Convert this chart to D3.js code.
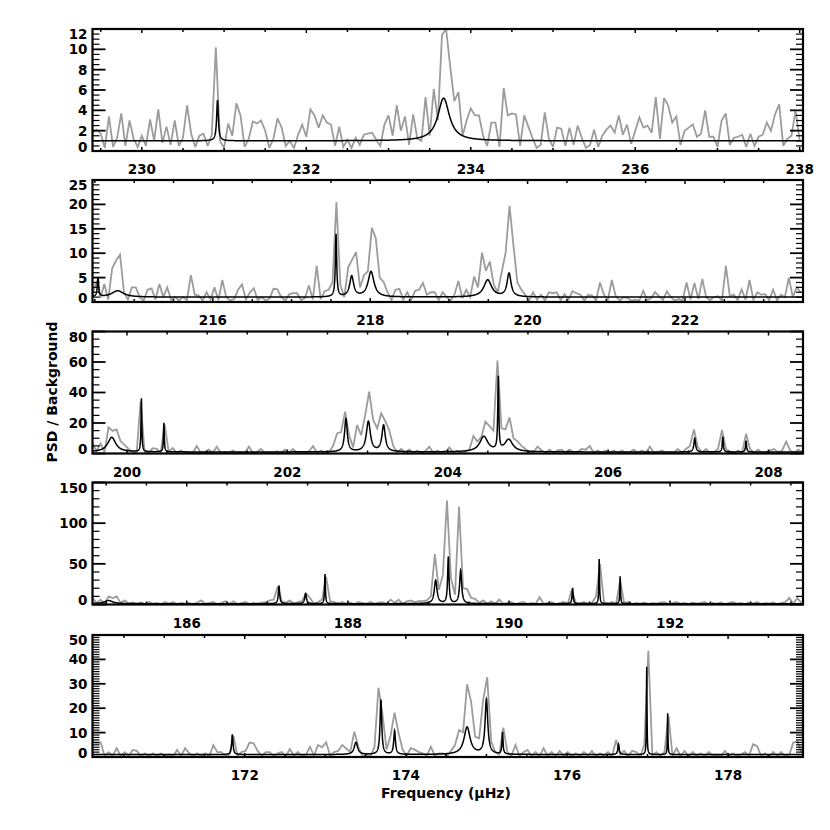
<!DOCTYPE html>
<html><head><meta charset="utf-8">
<script src="https://cdn.jsdelivr.net/npm/d3@7/dist/d3.min.js"></script>
<style>
body{margin:0;background:#fff}
text{font-family:"DejaVu Sans",sans-serif;font-weight:bold;fill:#000}
</style>
</head><body>
<svg id="chart" width="830" height="830"></svg>
<script>
// ---------------- DATA ----------------
const fStart = [229.40, 214.47, 199.57, 184.83, 170.11];   // μHz, left edge of each panel
const fEnd   = [238.04, 223.50, 208.43, 193.65, 178.93];   // μHz, right edge of each panel
const binWidth = 0.05;                                      // μHz per PSD sample (as read)
const background = 1;                                       // PSD/background level of the fit
const yMax   = [12, 25, 80, 150, 50];
const yMajor = [2, 5, 20, 50, 10];
const yMinor = [0.5, 1, 5, 10, 1];
const xMajor = 2, xMinor = 0.5;
const xTickLabels = [
  [230, 232, 234, 236, 238],
  [216, 218, 220, 222],
  [200, 202, 204, 206, 208],
  [186, 188, 190, 192],
  [172, 174, 176, 178]
];

// observed PSD / background (grey)
const psd1 = [1.8,2.1,1.7,0.3,3.4,0.4,1.3,3.7,0.5,3.0,1.2,0.4,
 1.5,0.5,3.1,1.0,4.1,0.8,2.4,0.6,3.0,0.5,
 1.3,4.5,1.7,0.4,1.5,1.7,0.5,1.6,10.2,1.0,
 0.3,2.7,1.5,4.7,3.5,0.4,1.2,2.9,2.7,3.0,
 2.0,0.3,1.2,3.2,2.3,0.5,1.0,0.3,1.6,2.6,
 1.4,4.1,3.5,2.3,3.5,2.8,2.6,0.5,2.4,0.4,
 1.1,0.3,1.3,0.6,1.6,1.7,1.8,1.1,0.5,2.6,
 3.5,1.5,4.5,2.0,3.4,0.6,3.6,1.2,
 1.0,5.3,1.5,6.1,3.0,11.4,12.0,8.3,4.9,5.8,
 1.5,3.0,4.2,3.5,3.5,1.5,0.5,2.8,2.8,0.4,
 6.2,3.5,3.7,3.6,0.5,3.5,2.4,1.3,0.3,0.6,
 3.8,1.2,0.4,2.3,2.2,0.5,2.3,0.6,2.5,1.3,
 0.3,0.6,2.1,0.4,1.5,2.1,2.5,1.8,3.5,1.6,
 2.6,0.7,2.0,3.3,2.3,2.5,1.8,5.3,1.2,5.2,
 4.5,2.8,3.4,0.6,2.0,2.3,2.6,1.4,1.7,4.0,
 1.4,1.4,0.4,3.0,3.7,0.6,1.3,1.4,1.6,0.4,
 1.7,0.5,1.4,1.6,2.8,2.0,3.6,4.6,0.5,1.2,
 1.5,4.0,1.0];
const psd2 = [1.5,4.3,0.8,3.7,0.5,6.9,8.5,9.7,2.0,0.5,
 3.0,3.0,1.0,0.3,2.5,2.8,0.5,3.7,1.0,3.0,
 0.4,1.0,0.3,1.0,0.4,5.5,1.5,1.3,0.3,2.0,
 0.5,3.0,0.4,4.5,1.0,0.3,0.6,2.5,3.6,0.5,
 2.0,2.8,0.4,1.0,0.3,0.7,2.7,2.6,1.0,0.3,
 1.6,1.8,1.8,0.4,0.8,3.4,0.5,7.4,0.6,2.2,
 2.5,4.0,20.5,3.5,1.0,7.1,8.7,10.2,3.0,5.5,
 6.3,15.2,13.1,5.0,4.1,2.0,0.4,2.5,2.7,0.5,
 2.0,0.4,2.3,2.5,3.9,1.5,2.0,2.0,0.4,2.0,
 1.0,0.3,1.5,4.3,0.8,2.5,1.0,5.2,3.0,10.1,
 6.4,8.3,3.5,2.0,6.1,10.0,19.7,11.6,4.0,2.5,
 1.5,0.3,2.0,0.5,1.5,0.3,2.0,1.8,2.0,0.4,
 1.6,0.5,2.2,1.8,1.5,0.3,1.5,1.3,0.3,4.0,
 1.5,0.4,4.5,1.2,0.3,1.0,0.8,0.3,0.5,0.3,
 2.3,0.4,0.8,2.0,1.2,0.4,2.2,1.0,0.3,0.6,
 0.3,4.0,0.5,3.9,0.6,4.7,1.0,0.4,1.0,1.2,
 0.3,7.4,1.2,1.5,0.4,2.6,0.5,4.5,0.5,2.0,
 1.5,1.6,0.4,2.5,0.4,1.5,1.0,5.0,1.0,3.0,2.0];
const psd3 = [6.7,1.5,6.5,1.0,17.2,14.8,15.8,8.0,5.6,3.0,
 1.0,0.5,34,1.0,0.5,3.5,3.0,0.5,19,1.0,
 3.5,0.5,2.0,0.5,1.0,0.4,4.9,0.5,1.0,2.5,
 0.5,4.5,0.5,1.0,0.5,2.0,0.5,1.0,0.4,4.5,
 0.5,1.0,3.0,0.4,1.0,0.5,1.5,0.5,2.5,0.5,
 3.0,0.4,1.0,0.5,1.5,4.9,0.5,2.0,0.4,1.0,
 4.9,13.2,14,27.4,12,4.0,18.7,12,25,40.5,
 22,16.5,26.3,21.3,15.4,5.0,1.0,3.0,0.5,2.5,
 0.5,2.0,0.5,1.5,4.5,0.5,2.0,0.4,1.0,4.0,
 0.5,1.5,0.5,1.0,2.5,11.5,7.8,11.0,20.9,18.0,
 15.0,60.9,16.5,15.8,23.7,10.0,8.0,5.0,3.0,0.5,
 1.0,4.5,2.0,0.5,2.5,0.5,2.0,2.5,0.5,2.5,
 0.5,1.0,3.0,2.5,4.9,0.5,2.0,0.4,2.0,0.5,
 2.0,0.5,2.0,0.4,1.0,2.5,0.5,2.0,0.4,4.5,
 0.5,1.0,2.0,0.4,1.0,0.5,3.0,0.5,3.0,5.0,
 15.8,4.0,0.5,3.0,0.4,1.0,3.0,15.4,3.0,1.0,
 0.4,2.0,0.5,12.8,3.0,0.5,2.5,0.4,1.0,2.0,
 3.0,0.5,2.0,7.8,2.0,0.5,2.5,1.0];
const psd4 = [8,2,6,1,10,8,10,2,5,1,
 2.5,0.5,2.5,0.5,3,1,2,0.5,3,1,
 3,0.5,2,1,2,0.5,2.5,5,1,2,
 3,0.5,2,4,1,4,0.5,2,3,0.5,
 2,1,2.5,3,5,6,22.4,4,2,5,
 1,3,4,13.5,8,1,3,6,34,4,
 3,1,3,1,2.5,0.5,3,2,1,3.5,
 1,2.5,3,1,6,2,6,1,4,5,
 3,4,4,5,10,62,18,36.7,127.8,32,
 12,120.4,20,19,8,7,2,5,1,4,
 1,6,1,2,3,0.5,2,3,0.5,2,
 1,9,1,2,3,0.5,2,3,1,18,
 2,1,3,0.5,2,10,50,3,1,3,
 1,30,2,3,0.5,2,1,2.5,0.5,2,
 1,2.5,3,0.5,2,3,1,2,0.5,2.5,
 1,2,3,0.5,2,1,2.5,0.5,2,3,
 1,2,0.5,2.5,1,3,0.5,2,1,2.5,
 0.5,2,3,8,1,8,2];
const psd5 = [6.3,5.5,6.0,0.5,2.0,0.5,3.6,0.5,2.0,0.5,
 2.9,2.5,0.3,1.5,0.3,1.5,0.3,1.5,0.3,1.0,
 0.3,2.9,0.5,3.6,1.5,0.3,1.5,0.3,1.5,0.3,
 4.9,2.0,2.0,0.3,1.0,8.5,0.5,2.0,2.5,5.9,
 5.6,2.5,0.5,2.0,2.0,0.3,1.5,2.0,0.3,3.3,
 0.5,2.0,0.3,1.0,4.2,0.5,4.9,4.0,6.0,0.5,
 2.0,2.5,4.9,3.5,2.0,10.4,4.2,0.5,1.0,0.3,
 4.0,28.4,17.5,3.0,8.7,18.2,9.7,3.0,0.5,3.6,
 3.0,2.0,1.5,0.5,4.2,0.5,1.5,1.5,0.3,2.5,
 4.9,11.0,10.1,29.8,22.7,8.3,7.7,23.4,32.7,6.3,
 2.0,1.0,12,2.0,0.5,4.9,0.5,2.0,2.9,0.5,
 2.0,0.3,3.6,0.5,2.0,0.3,2.5,0.5,2.0,0.3,
 1.5,0.3,2.0,0.5,2.5,0.3,1.5,0.5,2.0,0.3,
 7.0,1.0,2.5,0.5,2.5,2.0,0.3,5,43.5,0.5,
 2.0,0.5,2.0,17,0.5,3.6,0.5,2.5,0.3,2.0,
 0.5,1.5,0.3,2.0,0.5,1.0,0.3,2.5,0.5,1.5,
 0.3,1.0,2.0,0.5,5.2,4.5,0.5,1.5,0.3,2.0,
 0.5,2.0,0.3,1.0,5.9,6.3,2.0];

// fitted Lorentzian modes (black): frequency (μHz), height above background, linewidth FWHM (μHz)
const modeFreq1 = [230.92, 233.67];
const modeHeight1 = [4.0, 4.2];
const modeWidth1 = [0.025, 0.17];
const modeFreq2 = [214.54, 214.79, 217.565, 217.764, 218.01, 219.493, 219.764];
const modeHeight2 = [4.0, 1.3, 12.8, 4.2, 5.2, 3.5, 4.8];
const modeWidth2 = [0.02, 0.18, 0.02, 0.06, 0.09, 0.12, 0.06];
const modeFreq3 = [199.81, 200.18, 200.46, 202.73, 203.01, 203.20, 204.45, 204.63, 204.76, 207.08, 207.43, 207.72];
const modeHeight3 = [9.6, 35, 19, 21.6, 19.9, 17.3, 10, 47.6, 7.9, 9, 10, 7.4];
const modeWidth3 = [0.12, 0.012, 0.012, 0.04, 0.06, 0.05, 0.12, 0.015, 0.12, 0.025, 0.015, 0.015];
const modeFreq4 = [185.03, 187.145, 187.475, 187.716, 189.09, 189.247, 189.40, 190.79, 191.12, 191.38];
const modeHeight4 = [3.9, 21.4, 12.5, 36.5, 28.8, 57, 41, 19.4, 55, 33.7];
const modeWidth4 = [0.12, 0.02, 0.025, 0.012, 0.04, 0.02, 0.03, 0.015, 0.01, 0.01];
const modeFreq5 = [171.846, 173.38, 173.69, 173.86, 174.76, 175.00, 175.20, 176.64, 176.99, 177.25];
const modeHeight5 = [8.3, 5.0, 22.4, 9.7, 11.2, 22.4, 9.0, 4.3, 36, 16.9];
const modeWidth5 = [0.02, 0.05, 0.025, 0.025, 0.09, 0.04, 0.015, 0.02, 0.008, 0.008];

const psdList = [psd1, psd2, psd3, psd4, psd5];
const modes = [
  [modeFreq1, modeHeight1, modeWidth1],
  [modeFreq2, modeHeight2, modeWidth2],
  [modeFreq3, modeHeight3, modeWidth3],
  [modeFreq4, modeHeight4, modeWidth4],
  [modeFreq5, modeHeight5, modeWidth5]
];

// ---------------- LAYOUT ----------------
const L = 92.5, R = 803, PH = 122;
const tops = [29, 180, 331.5, 482.5, 635];
const svg = d3.select("#chart");
const FS = 13.5;

psdList.forEach((psd, i) => {
  const top = tops[i], bot = top + PH;
  const x = d3.scaleLinear().domain([fStart[i], fEnd[i]]).range([L, R]);
  const y = d3.scaleLinear().domain([0, yMax[i]]).range([bot, top]);
  const g = svg.append("g");
  const cid = "clip" + i;
  g.append("clipPath").attr("id", cid).append("rect")
    .attr("x", L).attr("y", top).attr("width", R - L).attr("height", PH);

  // grey observed spectrum
  const line = d3.line().x((d, k) => x(fStart[i] + k * binWidth)).y(d => y(d));
  g.append("path").datum(psd).attr("d", line).attr("clip-path", `url(#${cid})`)
    .attr("fill", "none").attr("stroke", "#9c9c9c").attr("stroke-width", 1.8)
    .attr("stroke-linejoin", "miter").attr("stroke-miterlimit", 3);

  // black fitted model: background + sum of Lorentzians
  const [mf, mh, mw] = modes[i];
  const freqs = d3.range(fStart[i], fEnd[i], 0.002).concat(mf).sort((a, b) => a - b);
  const model = freqs.map(f => {
    let p = background;
    mf.forEach((f0, j) => { const u = 2 * (f - f0) / mw[j]; p += mh[j] / (1 + u * u); });
    return [f, p];
  });
  g.append("path").datum(model)
    .attr("d", d3.line().x(d => x(d[0])).y(d => y(d[1])))
    .attr("clip-path", `url(#${cid})`)
    .attr("fill", "none").attr("stroke", "#000").attr("stroke-width", 1.5);

  // y ticks (both sides, inward)
  const eps = 1e-6;
  const majors = d3.range(0, yMax[i] + eps, yMajor[i]);
  const minors = d3.range(0, yMax[i] + eps, yMinor[i])
    .filter(v => Math.abs(v / yMajor[i] - Math.round(v / yMajor[i])) > 1e-6);
  const tk = g.append("g").attr("stroke", "#000");
  majors.forEach(v => {
    tk.append("line").attr("x1", L).attr("x2", L + 13).attr("y1", y(v)).attr("y2", y(v)).attr("stroke-width", 1.8);
    tk.append("line").attr("x1", R).attr("x2", R - 13).attr("y1", y(v)).attr("y2", y(v)).attr("stroke-width", 1.8);
  });
  minors.forEach(v => {
    tk.append("line").attr("x1", L).attr("x2", L + 7).attr("y1", y(v)).attr("y2", y(v)).attr("stroke-width", 1.2);
    tk.append("line").attr("x1", R).attr("x2", R - 7).attr("y1", y(v)).attr("y2", y(v)).attr("stroke-width", 1.2);
  });
  majors.forEach(v => {
    let shift = 0;
    if (v === 0) shift = -4;
    if (Math.abs(v - yMax[i]) < eps) shift = 5.5;
    g.append("text").attr("x", 87.5).attr("y", y(v) + 4.9 + shift)
      .attr("text-anchor", "end").attr("font-size", FS).text(v);
  });

  // x ticks (top and bottom, short)
  const xmin = d3.range(Math.ceil(fStart[i] / xMinor) * xMinor, fEnd[i] + eps, xMinor);
  xmin.forEach(f => {
    const isMaj = Math.abs(f / xMajor - Math.round(f / xMajor)) < 1e-6;
    const len = isMaj ? 4 : 3;
    tk.append("line").attr("x1", x(f)).attr("x2", x(f)).attr("y1", top).attr("y2", top + len).attr("stroke-width", 1.5);
    tk.append("line").attr("x1", x(f)).attr("x2", x(f)).attr("y1", bot).attr("y2", bot - len).attr("stroke-width", 1.5);
  });
  xTickLabels[i].forEach(f => {
    g.append("text").attr("x", x(f)).attr("y", bot + 23)
      .attr("text-anchor", "middle").attr("font-size", FS).text(f);
  });

  // frame
  g.append("rect").attr("x", L).attr("y", top).attr("width", R - L).attr("height", PH)
    .attr("fill", "none").attr("stroke", "#000").attr("stroke-width", 2.2);
});

svg.append("text").attr("transform", "translate(57,392) rotate(-90)")
  .attr("text-anchor", "middle").attr("font-size", 14).text("PSD / Background");
svg.append("text").attr("x", 446).attr("y", 798)
  .attr("text-anchor", "middle").attr("font-size", 14).text("Frequency (μHz)");
</script>
</body></html>
